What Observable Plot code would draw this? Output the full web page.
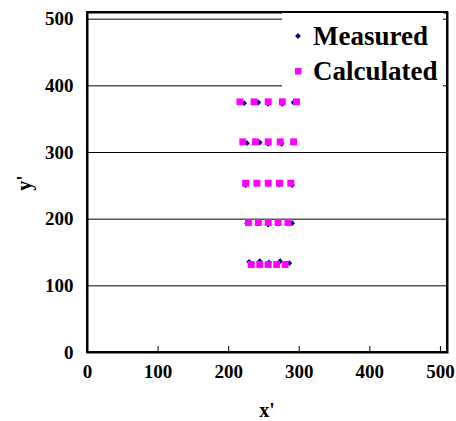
<!DOCTYPE html>
<html>
<head>
<meta charset="utf-8">
<script src="https://cdn.jsdelivr.net/npm/d3@7"></script>
<script src="https://cdn.jsdelivr.net/npm/@observablehq/plot@0.6"></script>
<style>
  html, body { margin: 0; padding: 0; background: #fff; }
  #chart svg { display: block; }
</style>
</head>
<body>
<div id="chart"></div>
<script>
// Tick values
const xTicks = [0, 100, 200, 300, 400, 500];
const yTicks = [0, 100, 200, 300, 400, 500];
const gridValues = [100, 200, 300, 400, 500];

// Series names
const seriesNames = ["Measured", "Calculated"];

// Measured points
const measuredX = [222, 242, 256, 276, 292,
                   226, 244, 256, 275, 292,
                   224, 240, 256, 272, 290,
                   226, 242, 256, 270, 290,
                   229, 244, 257, 273, 286];
const measuredY = [374, 375, 373, 373, 375,
                   314, 315, 313, 313, 315,
                   251, 254, 253, 252, 251,
                   194, 195, 192, 194, 194,
                   136, 137, 135, 137, 134];

// Calculated points
const calcX = [216, 236, 256, 276, 296,
               220, 238, 256, 273, 292,
               224, 240, 256, 272, 288,
               228, 242, 256, 270, 284,
               232, 244, 256, 268, 280];
const calcY = [376, 376, 376, 376, 376,
               316, 316, 316, 316, 316,
               254, 254, 254, 254, 254,
               195, 195, 195, 195, 195,
               132, 132, 132, 132, 132];

const measured = measuredX.map((x, i) => ({x, y: measuredY[i]}));
const calculated = calcX.map((x, i) => ({x, y: calcY[i]}));

const FONT = "'Liberation Serif', 'Times New Roman', serif";

const chart = Plot.plot({
  width: 456,
  height: 421,
  marginLeft: 87,
  marginRight: 9,
  marginTop: 12,
  marginBottom: 69,
  style: {fontFamily: FONT, fontWeight: "bold", fontSize: "19px", color: "#000", background: "#fff"},
  x: {domain: [0, 510]},
  y: {domain: [0, 510]},
  marks: [
    Plot.gridY(gridValues, {stroke: "#000", strokeOpacity: 1, strokeWidth: 1}),
    Plot.axisX(xTicks, {tickSize: 0, tickPadding: 12, fontSize: 19, fontWeight: "bold", label: null}),
    Plot.axisY(yTicks, {tickSize: 0, tickPadding: 14, fontSize: 19, fontWeight: "bold", label: null}),
    Plot.ruleX(xTicks.slice(1), {y1: 0, y2: 9, stroke: "#000", strokeWidth: 1}),
    Plot.dot(measured, {x: "x", y: "y", symbol: "diamond2", r: 2.6, fill: "#000080", stroke: "none"}),
    Plot.dot(calculated, {x: "x", y: "y", symbol: "square", r: 3.9, fill: "#FF00FF", stroke: "none"}),
    Plot.frame({stroke: "#000", strokeWidth: 2})
  ]
});

document.getElementById("chart").appendChild(chart);

// Axis titles and legend appended in pixel layout
const svg = d3.select(chart);

svg.append("text")
  .attr("x", 267).attr("y", 417)
  .attr("text-anchor", "middle")
  .style("font-family", FONT).style("font-weight", "bold").style("font-size", "20px")
  .text("x'");

svg.append("text")
  .attr("transform", "translate(31,183) rotate(-90)")
  .attr("text-anchor", "middle")
  .style("font-family", FONT).style("font-weight", "bold").style("font-size", "20px")
  .text("y'");

// Legend box (covers gridlines)
const lg = svg.append("g").attr("text-anchor", "start");
lg.append("rect")
  .attr("x", 282).attr("y", 13).attr("width", 161).attr("height", 75)
  .attr("fill", "#fff");
// Measured entry
lg.append("path")
  .attr("d", d3.symbol(d3.symbolDiamond2, Math.PI * 2.6 * 2.6)())
  .attr("transform", "translate(298,36)")
  .attr("fill", "#000080");
lg.append("text")
  .attr("x", 313).attr("y", 45)
  .attr("text-anchor", "start")
  .style("font-family", FONT).style("font-weight", "bold").style("font-size", "27px")
  .text(seriesNames[0]);
// Calculated entry
lg.append("rect")
  .attr("x", 295).attr("y", 68).attr("width", 6.5).attr("height", 6.5)
  .attr("fill", "#FF00FF");
lg.append("text")
  .attr("x", 313).attr("y", 80)
  .attr("text-anchor", "start")
  .style("font-family", FONT).style("font-weight", "bold").style("font-size", "27px")
  .text(seriesNames[1]);

// Redraw frame on top of legend
svg.append("rect")
  .attr("x", 87).attr("y", 12).attr("width", 360).attr("height", 340)
  .attr("fill", "none").attr("stroke", "#000").attr("stroke-width", 2);
</script>
</body>
</html>
